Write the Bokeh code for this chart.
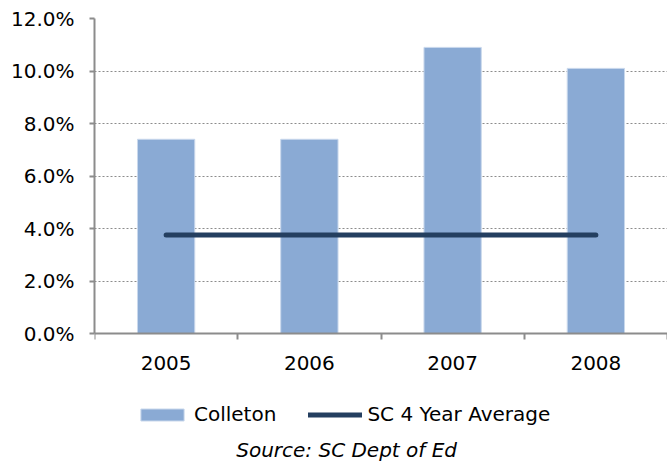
from bokeh.plotting import figure
from bokeh.models import (Range1d, FixedTicker, PrintfTickFormatter, Legend, LegendItem, Label)
from bokeh.embed import file_html
from bokeh.resources import INLINE
import numpy as np

years = ["2005", "2006", "2007", "2008"]
colleton = [7.4, 7.4, 10.9, 10.1]
sc_avg = [3.75, 3.75, 3.75, 3.75]
y_ticks = [0, 2, 4, 6, 8, 10, 12]
source_text = "Source: SC Dept of Ed"

FONT = "DejaVu Sans"
GRAY = "#8c8c8c"

xpos = np.arange(len(years)) + 0.5

# frame spans the whole lower area so that legend and source sit inside it
p = figure(width=667, height=462, output_backend="svg", toolbar_location=None,
           x_range=Range1d(0, len(years)), y_range=Range1d(-4.91, 12),
           min_border_left=94, min_border_right=0, min_border_top=18, min_border_bottom=0)
p.outline_line_color = None
p.xgrid.visible = False
p.ygrid.grid_line_color = GRAY
p.ygrid.grid_line_dash = "2 2"
p.ygrid.grid_line_width = 1

bars = p.vbar(x=xpos, top=colleton, width=0.4, bottom=0,
              fill_color="#8aaad4", line_color="#c9d8ec", line_width=1)
line = p.line(x=xpos, y=sc_avg, line_color="#243f60", line_width=5, line_cap="round")

# y axis
p.yaxis.ticker = FixedTicker(ticks=y_ticks)
p.yaxis.bounds = (0, 12)
p.yaxis.formatter = PrintfTickFormatter(format="%.1f%%")
p.yaxis.axis_line_color = GRAY
p.yaxis.axis_line_width = 2
p.yaxis.major_tick_line_color = GRAY
p.yaxis.major_tick_line_width = 2
p.yaxis.major_tick_out = 5
p.yaxis.major_tick_in = 0
p.yaxis.minor_tick_line_color = None
p.yaxis.major_label_text_font = FONT
p.yaxis.major_label_text_font_size = "20px"
p.yaxis.major_label_text_color = "#000000"
p.yaxis.major_label_standoff = 15

# x axis, drawn at y = 0
p.xaxis.fixed_location = 0
p.xaxis.ticker = FixedTicker(ticks=list(xpos), minor_ticks=list(range(len(years) + 1)))
p.xaxis.major_label_overrides = {float(x): y for x, y in zip(xpos, years)}
p.xaxis.axis_line_color = GRAY
p.xaxis.axis_line_width = 2
p.xaxis.major_tick_line_color = None
p.xaxis.major_tick_out = 6
p.xaxis.minor_tick_line_color = GRAY
p.xaxis.minor_tick_line_width = 2
p.xaxis.minor_tick_out = 6
p.xaxis.minor_tick_in = 0
p.xaxis.major_label_text_font = FONT
p.xaxis.major_label_text_font_size = "20px"
p.xaxis.major_label_text_color = "#000000"
p.xaxis.major_label_standoff = 16

legend = Legend(items=[LegendItem(label="Colleton", renderers=[bars]),
                       LegendItem(label="SC 4 Year Average", renderers=[line])],
                orientation="horizontal", location=(41, 36),
                label_text_font=FONT, label_text_font_size="20px", label_text_color="#000000",
                glyph_width=54, glyph_height=15, label_height=20, label_standoff=5, spacing=32,
                padding=0, margin=0, border_line_color=None, background_fill_alpha=0)
p.add_layout(legend, "center")

src = Label(x=1.76, y=-4.45, text=source_text, text_align="center", text_baseline="alphabetic",
            text_font=FONT, text_font_size="20px", text_font_style="italic", text_color="#000000")
p.add_layout(src)

open("out.html", "w").write(file_html(p, INLINE))
